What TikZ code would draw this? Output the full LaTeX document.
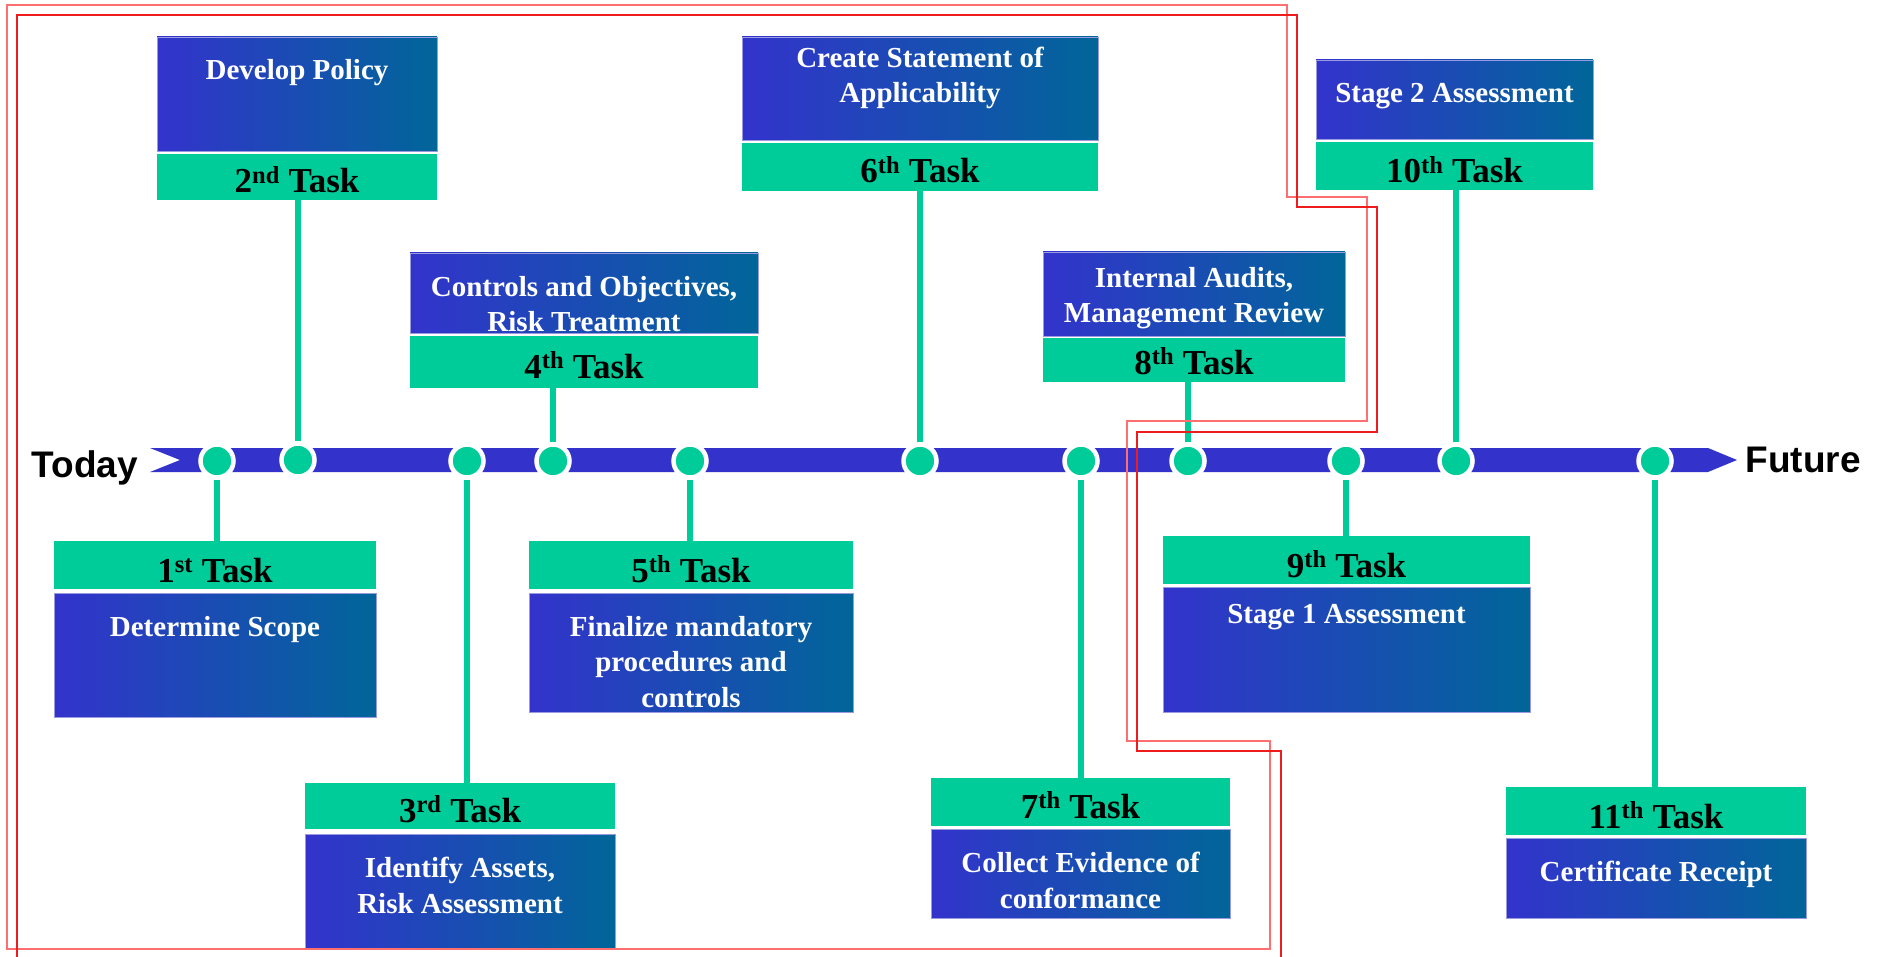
\documentclass[tikz,border=0pt]{standalone}
\usepackage{fontspec}
\setmainfont{Liberation Serif}
\newfontfamily\sidefont{Liberation Sans}
\definecolor{tgreen}{HTML}{00CC99}
\definecolor{tblue}{HTML}{3333CC}
\definecolor{tteal}{HTML}{006699}
\definecolor{redA}{HTML}{FF6F6F}
\definecolor{redB}{HTML}{EE1C1C}
\definecolor{boxedge}{HTML}{9A9AE0}
\tikzset{
  greenbox/.style={fill=tgreen, inner sep=0pt, outer sep=0pt},
  bluebox/.style={left color=tblue, right color=tteal, draw=boxedge, line width=0.8pt, inner sep=0pt, outer sep=0pt},
  lbl/.style={font=\fontsize{35}{40}\selectfont\bfseries, text=black, anchor=base, inner sep=0pt},
  desc/.style={font=\fontsize{29}{35.5}\selectfont\bfseries, text=white, align=center, anchor=base, inner sep=0pt},
  tdot/.style={circle, fill=tgreen, draw=white, line width=4.5pt, minimum size=33pt, inner sep=0pt},
  conn/.style={draw=tgreen, line width=5.5pt},
  sidelbl/.style={font=\sidefont\bfseries\fontsize{37}{44}\selectfont, anchor=base, inner sep=0pt},
  redlineA/.style={draw=redA, line width=1.3pt},
  redlineB/.style={draw=redB, line width=1.3pt}
}
\begin{document}
\begin{tikzpicture}[x=1pt,y=-1pt]
\useasboundingbox (0,0) rectangle (1881,957);
\fill[white] (0,0) rectangle (1881,957);

% ---- boxes above the timeline
\node[bluebox, minimum width=280pt, minimum height=114pt] (b2) at (297,94) {};
\node[greenbox, minimum width=280pt, minimum height=46pt] (g2) at (297,177) {};
\node[bluebox, minimum width=348pt, minimum height=80pt] (b4) at (584,293) {};
\node[greenbox, minimum width=348pt, minimum height=52pt] (g4) at (584,362) {};
\node[bluebox, minimum width=356pt, minimum height=103pt] (b6) at (920,88.5) {};
\node[greenbox, minimum width=356pt, minimum height=48pt] (g6) at (920,167) {};
\node[bluebox, minimum width=302pt, minimum height=84pt] (b8) at (1194,294) {};
\node[greenbox, minimum width=302pt, minimum height=44pt] (g8) at (1194,360) {};
\node[bluebox, minimum width=277pt, minimum height=79pt] (b10) at (1454.5,99.5) {};
\node[greenbox, minimum width=277pt, minimum height=48pt] (g10) at (1454.5,166) {};

% ---- boxes below the timeline
\node[greenbox, minimum width=322pt, minimum height=48pt] (g1) at (215,565) {};
\node[bluebox, minimum width=322pt, minimum height=124pt] (b1) at (215,655) {};
\node[greenbox, minimum width=310pt, minimum height=46pt] (g3) at (460,806) {};
\node[bluebox, minimum width=310pt, minimum height=114pt] (b3) at (460,891) {};
\node[greenbox, minimum width=324pt, minimum height=48pt] (g5) at (691,565) {};
\node[bluebox, minimum width=324pt, minimum height=119pt] (b5) at (691,652.5) {};
\node[greenbox, minimum width=299pt, minimum height=48pt] (g7) at (1080.5,802) {};
\node[bluebox, minimum width=299pt, minimum height=89pt] (b7) at (1080.5,873.5) {};
\node[greenbox, minimum width=367pt, minimum height=48pt] (g9) at (1346.5,560) {};
\node[bluebox, minimum width=367pt, minimum height=125pt] (b9) at (1346.5,649.5) {};
\node[greenbox, minimum width=300pt, minimum height=48pt] (g11) at (1656,811) {};
\node[bluebox, minimum width=300pt, minimum height=80pt] (b11) at (1656,878) {};

% ---- task labels
\node[lbl] (l1) at (215,582) {1\textsuperscript{st} Task};
\node[lbl] (l2) at (297,193) {2\textsuperscript{nd} Task};
\node[lbl] (l3) at (460,822) {3\textsuperscript{rd} Task};
\node[lbl] (l4) at (584,378) {4\textsuperscript{th} Task};
\node[lbl] (l5) at (691,582) {5\textsuperscript{th} Task};
\node[lbl] (l6) at (920,183) {6\textsuperscript{th} Task};
\node[lbl] (l7) at (1080.5,818) {7\textsuperscript{th} Task};
\node[lbl] (l8) at (1194,374) {8\textsuperscript{th} Task};
\node[lbl] (l9) at (1346.5,577) {9\textsuperscript{th} Task};
\node[lbl] (l10) at (1454.5,183) {10\textsuperscript{th} Task};
\node[lbl] (l11) at (1656,828) {11\textsuperscript{th} Task};

% ---- descriptions (anchored at the baseline of the last line)
\node[desc] (t1) at (215,636) {Determine Scope};
\node[desc] (t2) at (297,80) {Develop Policy};
\node[desc] (t3) at (460,913) {Identify Assets,\\Risk Assessment};
\node[desc] (t4) at (584,332) {Controls and Objectives,\\Risk Treatment};
\node[desc] (t5) at (691,707) {Finalize mandatory\\procedures and\\controls};
\node[desc] (t6) at (920,103) {Create Statement of\\Applicability};
\node[desc] (t7) at (1080.5,908) {Collect Evidence of\\conformance};
\node[desc] (t8) at (1194,323) {Internal Audits,\\Management Review};
\node[desc] (t9) at (1346.5,623) {Stage 1 Assessment};
\node[desc] (t10) at (1454.5,103) {Stage 2 Assessment};
\node[desc] (t11) at (1656,881) {Certificate Receipt};

% ---- timeline bar
\fill[tblue] (150,448) -- (1708,448) -- (1737,460) -- (1708,472) -- (150,472) -- (180,460) -- cycle;
\node[sidelbl] (today) at (85,477) {Today};
\node[sidelbl] (future) at (1803,472) {Future};

% ---- dots
\node[tdot] (d1) at (217,461) {};
\node[tdot] (d2) at (298,460) {};
\node[tdot] (d3) at (467,461) {};
\node[tdot] (d4) at (553,461) {};
\node[tdot] (d5) at (690,461) {};
\node[tdot] (d6) at (920,461) {};
\node[tdot] (d7) at (1081,461) {};
\node[tdot] (d8) at (1188,461) {};
\node[tdot] (d9) at (1346,461) {};
\node[tdot] (d10) at (1456,461) {};
\node[tdot] (d11) at (1655,461) {};

% ---- connectors
\draw[conn] (d1.south) -- (d1.south |- g1.north);
\draw[conn] (d2.north) -- (d2.north |- g2.south);
\draw[conn] (d3.south) -- (d3.south |- g3.north);
\draw[conn] (d4.north) -- (d4.north |- g4.south);
\draw[conn] (d5.south) -- (d5.south |- g5.north);
\draw[conn] (d6.north) -- (d6.north |- g6.south);
\draw[conn] (d7.south) -- (d7.south |- g7.north);
\draw[conn] (d8.north) -- (d8.north |- g8.south);
\draw[conn] (d9.south) -- (d9.south |- g9.north);
\draw[conn] (d10.north) -- (d10.north |- g10.south);
\draw[conn] (d11.south) -- (d11.south |- g11.north);

% ---- red outlines
\draw[redlineA] (7,5) -- (1287,5) -- (1287,197) -- (1367,197) -- (1367,421) -- (1127,421) -- (1127,741) -- (1270,741) -- (1270,949) -- (7,949) -- cycle;
\draw[redlineB] (17,957) -- (17,15) -- (1297,15) -- (1297,207) -- (1377,207) -- (1377,432) -- (1137,432) -- (1137,751) -- (1281,751) -- (1281,957);
\end{tikzpicture}
\end{document}
